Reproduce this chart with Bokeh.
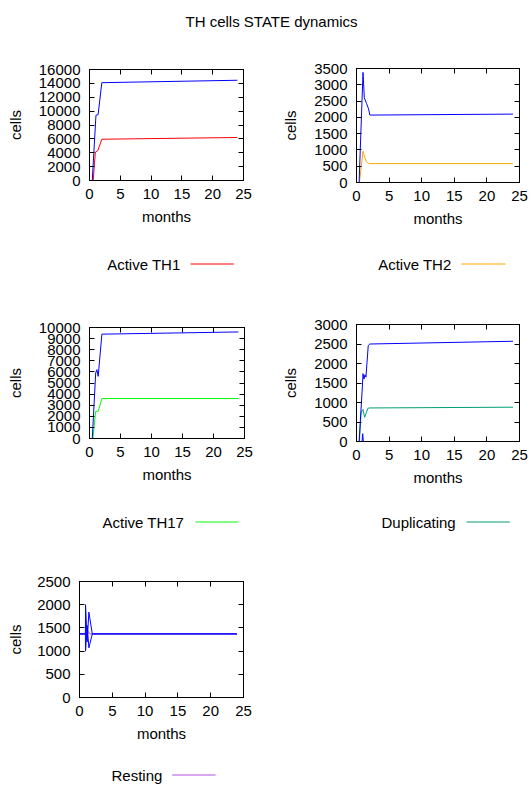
from bokeh.plotting import figure
from bokeh.models import Range1d, FixedTicker, LinearAxis, Label, Arrow
from bokeh.layouts import column, row
from bokeh.embed import file_html
from bokeh.resources import INLINE

FONT = "Liberation Sans"
FS = "15px"

title_text = "TH cells STATE dynamics"
x_label = "months"
y_label = "cells"
x_ticks = [0, 5, 10, 15, 20, 25]

# ---- Active TH1 panel ----
th1_t = [0, 0.6, 0.95, 1.35, 2.0, 24]
th1_active = [0, 0, 4100, 4300, 5950, 6200]
th1_total_t = [0, 0.45, 1.05, 1.4, 2.0, 24]
th1_total = [0, 0, 9400, 9500, 14100, 14450]
th1_yticks = [0, 2000, 4000, 6000, 8000, 10000, 12000, 14000, 16000]

# ---- Active TH2 panel ----
th2_t = [0, 0.45, 1.0, 1.25, 1.5, 1.75, 2.0, 24]
th2_active = [0, 0, 960, 780, 650, 600, 580, 580]
th2_total_t = [0, 0.4, 1.0, 1.2, 1.55, 1.85, 2.05, 24]
th2_total = [0, 0, 3380, 2600, 2420, 2260, 2070, 2100]
th2_yticks = [0, 500, 1000, 1500, 2000, 2500, 3000, 3500]

# ---- Active TH17 panel ----
th17_t = [0, 0.55, 1.0, 1.4, 2.0, 24]
th17_active = [0, 0, 2450, 2450, 3600, 3600]
th17_total_t = [0, 0.45, 1.0, 1.2, 1.4, 2.0, 24]
th17_total = [0, 0, 5900, 6200, 5600, 9400, 9600]
th17_yticks = [0, 1000, 2000, 3000, 4000, 5000, 6000, 7000, 8000, 9000, 10000]

# ---- Duplicating panel ----
dup_t = [0, 0.45, 0.7, 1.0, 1.25, 1.75, 2.0, 24]
duplicating = [0, 0, 750, 820, 620, 850, 860, 880]
dup_total_t = [0, 0.4, 0.9, 1.0, 1.15, 1.3, 1.45, 1.8, 2.05, 24]
dup_total = [0, 0, 1400, 1740, 1600, 1710, 1650, 2460, 2500, 2570]
dup_spike_t = [0.85, 0.95, 1.05]
dup_spike = [0, 200, 0]
dup_yticks = [0, 500, 1000, 1500, 2000, 2500, 3000]

# ---- Resting panel ----
rest_t = [0, 0.85, 1.0, 1.3, 1.6, 24]
resting = [1370, 1370, 1480, 1430, 1370, 1370]
rest_b_t = [0, 0.9, 0.92, 1.17, 1.43, 1.95, 24]
rest_hi = [1370, 1370, 2000, 1200, 1840, 1370, 1370]
rest_lo = [1370, 1370, 1000, 1550, 1070, 1370, 1370]
rest_yticks = [0, 500, 1000, 1500, 2000, 2500]

BLUE = "#0000ff"
RED = "#ff0000"
ORANGE = "#ffa500"
GREEN = "#00ff00"
TEAL = "#009e73"
VIOLET = "#b050e0"


def style_axis(ax, show_labels):
    ax.major_tick_in = 5
    ax.major_tick_out = 0
    ax.minor_tick_line_color = None
    ax.axis_line_color = "black"
    ax.major_tick_line_color = "black"
    if show_labels:
        ax.major_label_text_font = FONT
        ax.major_label_text_font_size = FS
        ax.major_label_text_color = "black"
        ax.axis_label_text_font = FONT
        ax.axis_label_text_font_size = FS
        ax.axis_label_text_font_style = "normal"
        ax.axis_label_text_color = "black"
    else:
        ax.major_label_text_font_size = "0px"
        ax.major_label_text_color = None
        ax.major_label_standoff = 0


def make_panel(width, height, borders, y_max, y_ticks, series, ylab_standoff):
    left, right, top, bottom = borders
    p = figure(width=width, height=height, output_backend="svg",
               toolbar_location=None, x_range=Range1d(0, 25),
               y_range=Range1d(0, y_max), min_border_left=left,
               min_border_right=right, min_border_top=top,
               min_border_bottom=bottom)
    p.grid.visible = False
    p.outline_line_color = "black"
    p.outline_line_width = 1
    p.background_fill_color = "white"
    p.border_fill_color = "white"

    p.xaxis.ticker = FixedTicker(ticks=x_ticks)
    p.yaxis.ticker = FixedTicker(ticks=y_ticks)
    p.xaxis.axis_label = x_label
    p.yaxis.axis_label = y_label
    for ax in p.xaxis:
        style_axis(ax, True)
        ax.major_label_standoff = 8
        ax.axis_label_standoff = 6
    for ax in p.yaxis:
        style_axis(ax, True)
        ax.major_label_standoff = 9
        ax.axis_label_standoff = ylab_standoff

    top_ax = LinearAxis(ticker=FixedTicker(ticks=x_ticks))
    style_axis(top_ax, False)
    p.add_layout(top_ax, "above")
    right_ax = LinearAxis(ticker=FixedTicker(ticks=y_ticks))
    style_axis(right_ax, False)
    p.add_layout(right_ax, "right")

    for xs, ys, color in series:
        p.line(xs, ys, line_color=color, line_width=1)
    return p


def blank(width, height):
    f = figure(width=width, height=height, output_backend="svg",
               toolbar_location=None, x_range=Range1d(0, width),
               y_range=Range1d(0, height), x_axis_type=None,
               y_axis_type=None, min_border=0)
    f.outline_line_color = None
    f.background_fill_color = "white"
    f.border_fill_color = "white"
    return f


def add_key(f, label, color, tx, lx0, lx1, ly):
    # gnuplot-style key: text first, then a short line sample
    f.add_layout(Label(x=tx, y=ly, text=label, text_font=FONT,
                       text_font_size=FS, text_color="black",
                       text_align="left", text_baseline="middle"))
    f.add_layout(Arrow(x_start=lx0, y_start=ly, x_end=lx1, y_end=ly,
                       start=None, end=None, line_color=color, line_width=1))


W = 532

tp = blank(W, 38)
tp.add_layout(Label(x=271, y=17, text=title_text, text_font=FONT,
                    text_font_size=FS, text_color="black",
                    text_align="center", text_baseline="middle"))

p1 = make_panel(274, 202, (89, 31, 31, 60), 16000, th1_yticks,
                [(th1_t, th1_active, RED), (th1_total_t, th1_total, BLUE)], 12)
p2 = make_panel(258, 202, (82, 13, 30, 58), 3500, th2_yticks,
                [(th2_t, th2_active, ORANGE), (th2_total_t, th2_total, BLUE)], 12)
k1 = blank(W, 57)
add_key(k1, "Active TH1", RED, 106.7, 190, 233.3, 33.5)
add_key(k1, "Active TH2", ORANGE, 377.7, 461, 505, 33.5)

p3 = make_panel(274, 203, (89, 30, 30, 62), 10000, th17_yticks,
                [(th17_t, th17_active, GREEN), (th17_total_t, th17_total, BLUE)], 12)
p4 = make_panel(258, 203, (82, 13, 27, 59), 3000, dup_yticks,
                [(dup_t, duplicating, TEAL), (dup_total_t, dup_total, BLUE),
                 (dup_spike_t, dup_spike, BLUE)], 12)
k2 = blank(W, 56)
add_key(k2, "Active TH17", GREEN, 102, 195, 237.7, 34.5)
add_key(k2, "Duplicating", TEAL, 381, 466, 509.3, 34.5)

p5 = make_panel(274, 194, (79, 31, 25, 53), 2500, rest_yticks,
                [(rest_t, resting, VIOLET), (rest_b_t, rest_hi, BLUE),
                 (rest_b_t, rest_lo, BLUE)], 10)
k3 = blank(W, 34)
add_key(k3, "Resting", VIOLET, 111, 171.7, 215, 9.5)

layout = column(tp,
                row(column(p1), column(p2)),
                k1,
                row(column(p3), column(p4)),
                k2,
                row(column(p5)),
                k3)

open("out.html", "w").write(file_html(layout, INLINE))
